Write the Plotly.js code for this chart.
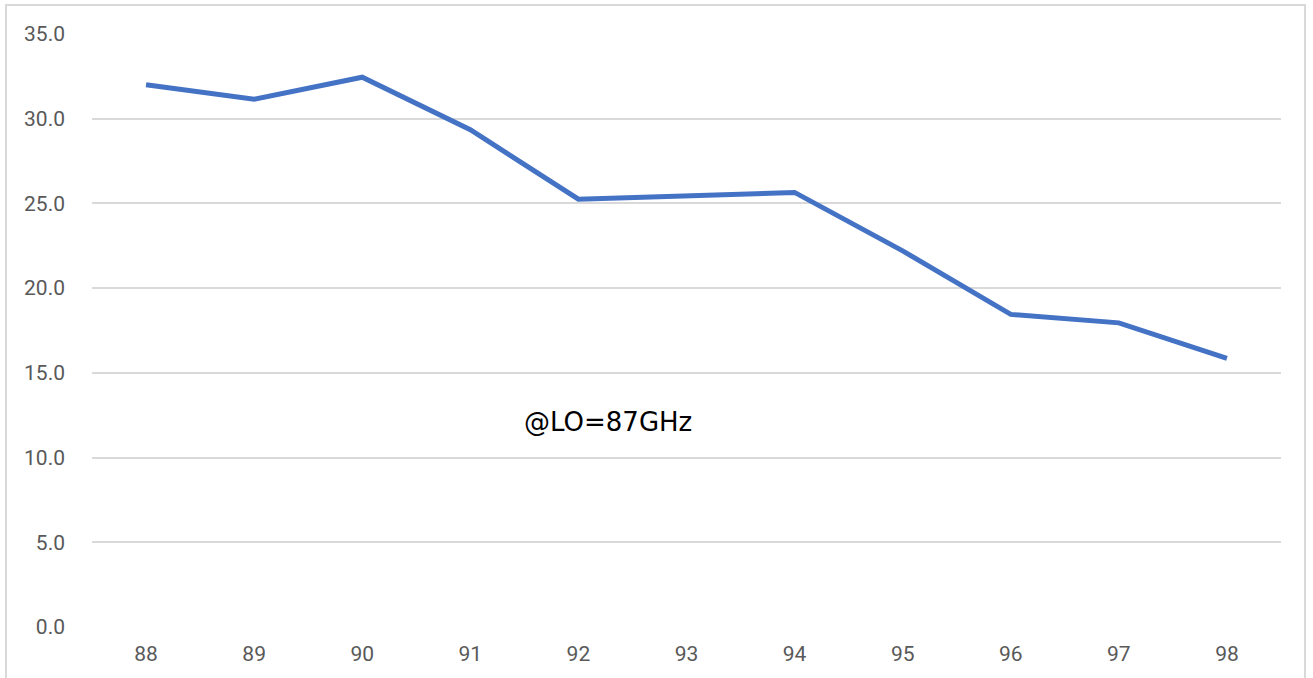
<!DOCTYPE html>
<html>
<head>
<meta charset="utf-8">
<script src="https://cdn.plot.ly/plotly-3.0.1.min.js"></script>
<style>
  html, body { margin: 0; padding: 0; background: #ffffff; overflow: hidden; }
  #frame { position: absolute; left: 5px; top: 4px; width: 1301px; height: 700px; border: 2px solid #d9d9d9; box-sizing: border-box; }
  #chart { position: absolute; left: 0; top: 0; width: 1313px; height: 678px; }
</style>
</head>
<body>
<div id="frame"></div>
<div id="chart"></div>
<script>
const categories = ["88", "89", "90", "91", "92", "93", "94", "95", "96", "97", "98"];
const values = [32.0, 31.15, 32.45, 29.35, 25.25, 25.45, 25.65, 22.2, 18.45, 17.95, 15.85];
const yTicks = [0, 5, 10, 15, 20, 25, 30, 35];
const yTickLabels = ["0.0", "5.0", "10.0", "15.0", "20.0", "25.0", "30.0", "35.0"];
const noteText = "@LO=87GHz";

const fontFam = "Roboto, 'Open Sans', sans-serif";

Plotly.newPlot("chart", [{
  type: "scatter",
  mode: "lines",
  x: categories,
  y: values,
  line: { color: "#4472C4", width: 5 },
  hoverinfo: "skip"
}], {
  width: 1313,
  height: 678,
  margin: { l: 92, r: 32, t: 34, b: 51 },
  paper_bgcolor: "rgba(0,0,0,0)",
  plot_bgcolor: "rgba(0,0,0,0)",
  showlegend: false,
  xaxis: {
    type: "category",
    range: [-0.5, 10.5],
    showgrid: false,
    zeroline: false,
    showline: false,
    ticks: "",
    ticklabelstandoff: 12,
    tickfont: { family: fontFam, size: 21, color: "#595959" }
  },
  yaxis: {
    range: [0, 35],
    tickvals: yTicks,
    ticktext: yTickLabels,
    showgrid: true,
    gridcolor: "#d9d9d9",
    gridwidth: 2,
    zeroline: false,
    showline: false,
    ticks: "",
    ticklabelstandoff: 26,
    tickfont: { family: fontFam, size: 21, color: "#595959" }
  },
  annotations: [{
    xref: "paper", yref: "paper",
    x: 0.434, y: 0.3457,
    xanchor: "center", yanchor: "middle",
    text: noteText,
    showarrow: false,
    font: { family: "'DejaVu Sans', sans-serif", size: 26, color: "#000000" }
  }]
}, { displayModeBar: false, staticPlot: true });
</script>
</body>
</html>
